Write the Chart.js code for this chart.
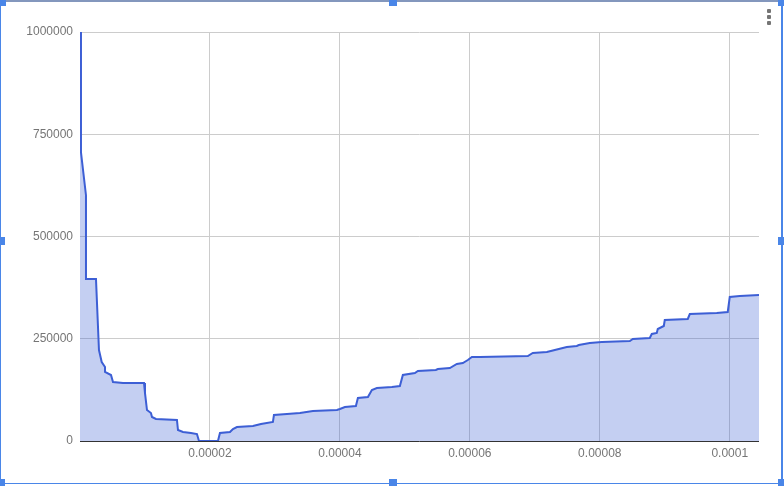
<!DOCTYPE html>
<html>
<head>
    <title>Area chart</title>
    <style>
        body {
            margin: 0;
            background: #fff;
            font-family: Arial, sans-serif;
        }
        #wrap {
            position: relative;
            width: 784px;
            height: 486px;
            overflow: hidden;
        }
        #chart {
            position: absolute;
            left: 0;
            top: 0;
        }
        /* selection frame like in the sheet */
        .frame {
            position: absolute;
            left: 0;
            top: 0;
            width: 783px;
            height: 484px;
            box-sizing: border-box;
            border: 1px solid #4a86e8;
            border-top: 2px solid #8397bd;
            border-right: 2px solid #4a86e8;
            pointer-events: none;
        }
        .handle {
            position: absolute;
            width: 8px;
            height: 8px;
            background: #4a86e8;
        }
        .menu {
            position: absolute;
            left: 767px;
            top: 9px;
        }
        .menu span {
            display: block;
            width: 4px;
            height: 4px;
            margin-bottom: 2px;
            background: #757575;
            border-radius: 1px;
        }
    </style>
</head>
<body>
    <div id="wrap">
        <canvas id="chart" width="784" height="486"></canvas>
        <div class="frame"></div>
        <div class="handle" style="left:-2px; top:-2px"></div>
        <div class="handle" style="left:389px; top:-2px"></div>
        <div class="handle" style="left:778px; top:-2px"></div>
        <div class="handle" style="left:-3px; top:237px"></div>
        <div class="handle" style="left:778px; top:237px"></div>
        <div class="handle" style="left:-3px; top:479px"></div>
        <div class="handle" style="left:389px; top:479px"></div>
        <div class="handle" style="left:778px; top:479px"></div>
        <div class="menu"><span></span><span></span><span></span></div>
    </div>

    <script src="https://cdn.jsdelivr.net/npm/chart.js"></script>

    <script>
        // x values
        const xValues = [
            0, 0.00000015, 0.00000092, 0.00000092, 0.00000246, 0.00000292, 0.00000334, 0.00000385,
            0.00000385, 0.00000477, 0.00000508, 0.00000662, 0.00000985, 0.0000100, 0.00001031, 0.00001092,
            0.00001108, 0.00001169, 0.00001492, 0.00001508, 0.00001585, 0.00001708, 0.0000180, 0.00001831,
            0.00002123, 0.00002154, 0.00002308, 0.00002354, 0.00002415, 0.00002662, 0.00002785, 0.00002969,
            0.00002985, 0.00003185, 0.00003385, 0.00003585, 0.00003954, 0.0000400, 0.00004077, 0.00004246,
            0.00004277, 0.00004431, 0.00004492, 0.00004569, 0.0000480, 0.00004923, 0.00004969, 0.00005154,
            0.0000520, 0.00005477, 0.00005508, 0.00005692, 0.0000580, 0.00005892, 0.00005969, 0.00006031,
            0.00006154, 0.00006892, 0.00006969, 0.00007185, 0.00007369, 0.00007492, 0.00007646, 0.00007677,
            0.00007846, 0.00008031, 0.00008462, 0.00008508, 0.00008769, 0.0000880, 0.00008877, 0.00008892,
            0.00008985, 0.0000900, 0.00009354, 0.00009385, 0.0000980, 0.00009969, 0.0001, 0.00010154,
            0.0001045
        ];

        // y values
        const yValues = [
            1000000, 706000, 601000, 396000, 396000, 222500, 193200, 180900,
            168700, 161400, 144300, 141800, 141800, 117400, 75800, 68500,
            58700, 53800, 51300, 26900, 22000, 19600, 17100, 0,
            0, 19600, 22000, 29300, 34200, 36700, 41600, 46500,
            63600, 66000, 68500, 73400, 75800, 78200, 83100, 85600,
            105100, 107600, 124700, 129600, 132000, 134500, 161400, 166300,
            171200, 173600, 176000, 178500, 188300, 190700, 198000, 205400,
            205400, 207800, 215200, 217600, 224900, 229800, 232300, 234700,
            239600, 242100, 244500, 249400, 251800, 261600, 264100, 273800,
            281200, 295800, 298300, 310500, 313000, 315400, 352100, 354500,
            357000
        ];

        const xTickValues = [0.00002, 0.00004, 0.00006, 0.00008, 0.0001];
        const xTickLabels = ['0.00002', '0.00004', '0.00006', '0.00008', '0.0001'];
        const yTickValues = [0, 250000, 500000, 750000, 1000000];
        const yTickLabels = ['0', '250000', '500000', '750000', '1000000'];

        Chart.defaults.font.family = 'Arial, "Liberation Sans", sans-serif';
        Chart.defaults.font.size = 12;
        Chart.defaults.color = '#757575';

        // dark baseline drawn over the fill
        const baseline = {
            id: 'baseline',
            afterDatasetsDraw(chart) {
                const ctx = chart.ctx;
                const area = chart.chartArea;
                const y = Math.round(chart.scales.y.getPixelForValue(0)) + 0.5;
                ctx.save();
                ctx.strokeStyle = '#333333';
                ctx.lineWidth = 1;
                ctx.beginPath();
                ctx.moveTo(area.left, y);
                ctx.lineTo(area.right, y);
                ctx.stroke();
                ctx.restore();
            }
        };

        const points = xValues.map((x, i) => ({ x: x, y: yValues[i] }));

        const ctx = document.getElementById('chart').getContext('2d');
        new Chart(ctx, {
            type: 'line',
            data: {
                datasets: [{
                    data: points,
                    borderColor: '#3d5fd5',
                    backgroundColor: 'rgba(61, 95, 213, 0.3)',
                    borderWidth: 2,
                    fill: 'origin',
                    tension: 0,
                    pointRadius: 0,
                }],
            },
            options: {
                responsive: false,
                animation: false,
                layout: {
                    padding: { top: 32, right: 25, bottom: 0, left: 0 },
                },
                plugins: {
                    legend: { display: false },
                    tooltip: { enabled: false },
                },
                scales: {
                    x: {
                        type: 'linear',
                        min: 0,
                        max: 0.0001045,
                        afterBuildTicks: s => { s.ticks = xTickValues.map(v => ({ value: v })); },
                        afterFit: s => { s.height = 45; },
                        border: { display: false },
                        grid: { color: '#cccccc', drawTicks: false },
                        ticks: {
                            padding: 5,
                            maxRotation: 0,
                            callback: (v, i) => xTickLabels[i],
                        },
                    },
                    y: {
                        min: 0,
                        max: 1000000,
                        afterBuildTicks: s => { s.ticks = yTickValues.map(v => ({ value: v })); },
                        afterFit: s => { s.width = 80; },
                        border: { display: false },
                        grid: { color: '#cccccc', drawTicks: false },
                        ticks: {
                            padding: 7,
                            callback: (v, i) => yTickLabels[i],
                        },
                    },
                },
            },
            plugins: [baseline],
        });
    </script>
</body>
</html>
